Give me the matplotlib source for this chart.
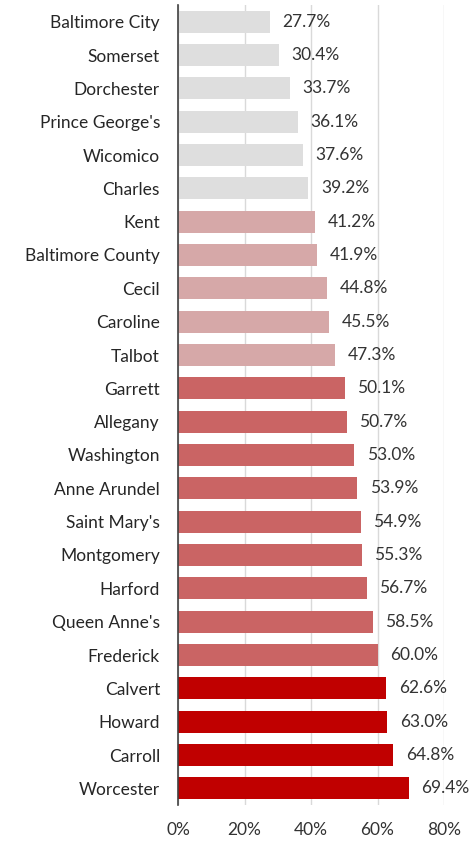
import matplotlib.pyplot as plt
from matplotlib.ticker import FuncFormatter

plt.rcParams['font.family'] = ['Lato', 'DejaVu Sans']

counties = ["Baltimore City", "Somerset", "Dorchester", "Prince George's", "Wicomico",
            "Charles", "Kent", "Baltimore County", "Cecil", "Caroline", "Talbot",
            "Garrett", "Allegany", "Washington", "Anne Arundel", "Saint Mary's",
            "Montgomery", "Harford", "Queen Anne's", "Frederick", "Calvert",
            "Howard", "Carroll", "Worcester"]
values = [27.7, 30.4, 33.7, 36.1, 37.6, 39.2, 41.2, 41.9, 44.8, 45.5, 47.3,
          50.1, 50.7, 53.0, 53.9, 54.9, 55.3, 56.7, 58.5, 60.0, 62.6, 63.0, 64.8, 69.4]
groups = [0] * 6 + [1] * 5 + [2] * 9 + [3] * 4
palette = ['#DEDEDE', '#D6A8A8', '#CA6464', '#C00000']

fig = plt.figure(figsize=(4.73, 8.41), dpi=100)
ax = fig.add_axes([178 / 473, 36 / 841, 266 / 473, 800 / 841])

ypos = list(range(len(counties)))
colors = [palette[g] for g in groups]
ax.barh(ypos, values, height=0.66, color=colors, zorder=3)

for y, v in zip(ypos, values):
    ax.annotate(f"{v:.1f}%", (v, y), xytext=(9, 0), textcoords='offset points',
                va='center', ha='left', fontsize=12.5, color='#333333',
                annotation_clip=False)

ax.set_xlim(0, 80)
ax.set_ylim(len(counties) - 0.5, -0.5)
ax.set_xticks([0, 20, 40, 60, 80])
ax.xaxis.set_major_formatter(FuncFormatter(lambda x, p: f"{x:.0f}%"))
ax.set_yticks(ypos)
ax.set_yticklabels(counties)
ax.tick_params(axis='y', length=0, pad=13, labelsize=12.5, labelcolor='#262626')
ax.tick_params(axis='x', length=0, pad=12, labelsize=12.5, labelcolor='#333333')

ax.grid(axis='x', color='#D9D9D9', linewidth=1, zorder=0)
for s in ['top', 'right', 'bottom']:
    ax.spines[s].set_visible(False)
ax.spines['left'].set_color('#404040')
ax.spines['left'].set_linewidth(1.2)
ax.spines['left'].set_zorder(4)

plt.savefig('out.png', dpi=100)
